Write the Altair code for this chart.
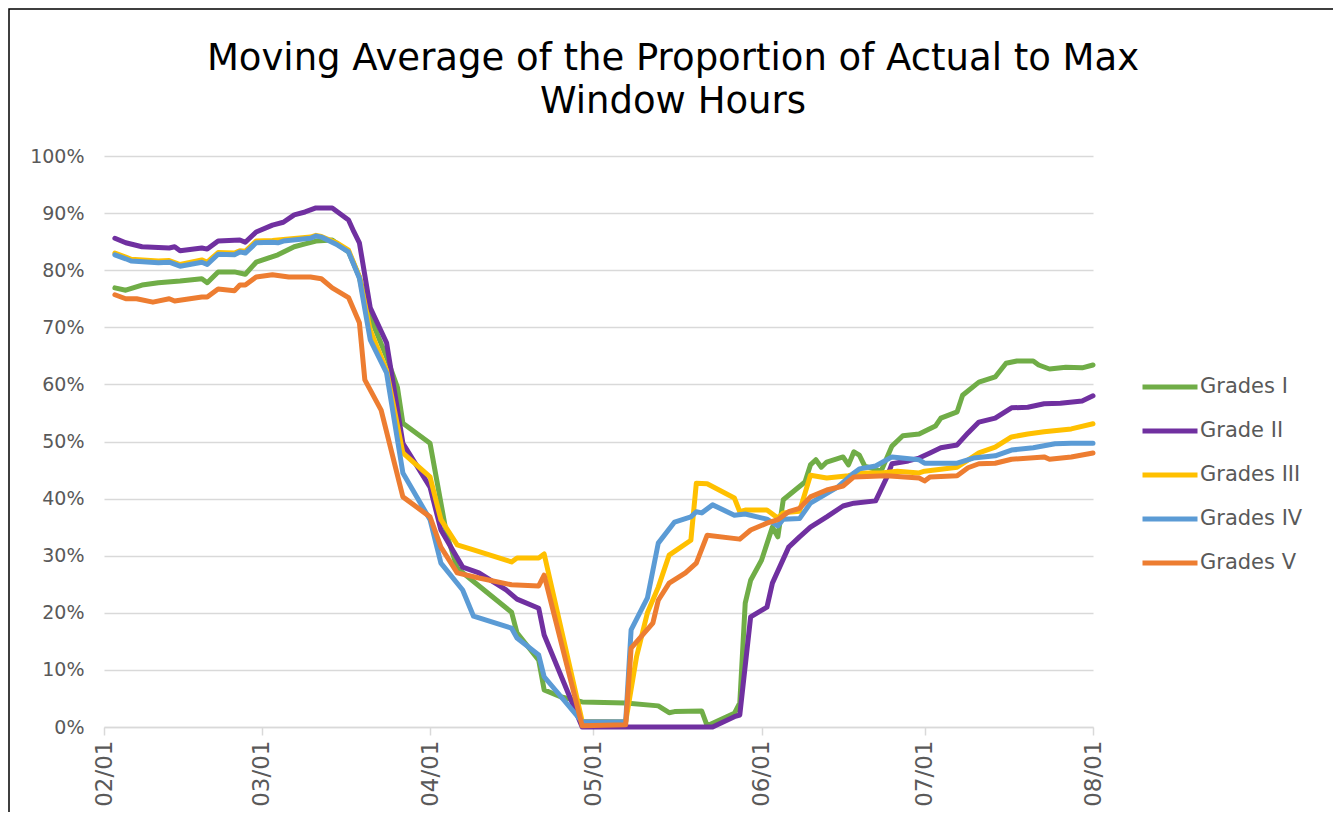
import altair as alt
import pandas as pd

title_lines = ["Moving Average of the Proportion of Actual to Max", "Window Hours"]
series_names = ["Grades I", "Grade II", "Grades III", "Grades IV", "Grades V"]
series_colors = ["#70AD47", "#7030A0", "#FFC000", "#5B9BD5", "#ED7D31"]

g1_dates = ["02-03", "02-05", "02-08", "02-11", "02-15", "02-19", "02-20", "02-22", "02-25", "02-27",
            "02-29", "03-04", "03-07", "03-09", "03-11", "03-14", "03-17", "03-19", "03-21", "03-24",
            "03-26", "03-27", "04-01", "04-04", "04-06", "04-16", "04-17", "04-21", "04-22", "04-25",
            "04-29", "05-07", "05-13", "05-15", "05-16", "05-21", "05-22", "05-27", "05-28", "05-29",
            "05-30", "06-01", "06-03", "06-04", "06-05", "06-09", "06-10", "06-11", "06-12", "06-13",
            "06-16", "06-17", "06-18", "06-19", "06-20", "06-23", "06-25", "06-27", "06-30", "07-03",
            "07-04", "07-07", "07-08", "07-11", "07-14", "07-16", "07-18", "07-21", "07-22", "07-24",
            "07-27", "07-30", "08-01"]
g1_vals = [76.9, 76.5, 77.4, 77.8, 78.1, 78.5, 77.8, 79.7, 79.7, 79.3,
           81.4, 82.7, 84.1, 84.6, 85.1, 85.3, 83.2, 78.8, 71.8, 64.8,
           59.5, 53.2, 49.7, 34.0, 27.8, 20.1, 16.5, 11.7, 6.5, 5.3,
           4.4, 4.2, 3.7, 2.5, 2.7, 2.8, 0.2, 2.4, 4.2, 21.7,
           25.7, 29.2, 35.0, 33.3, 39.8, 42.9, 45.9, 46.8, 45.5, 46.4,
           47.3, 45.9, 48.2, 47.6, 45.7, 44.8, 49.2, 51.0, 51.3, 52.7,
           54.1, 55.2, 58.1, 60.4, 61.3, 63.7, 64.1, 64.1, 63.4, 62.7,
           63.0, 62.9, 63.4]

g2_dates = ["02-03", "02-05", "02-08", "02-13", "02-14", "02-15", "02-19", "02-20", "02-22", "02-26",
            "02-27", "02-29", "03-03", "03-05", "03-07", "03-09", "03-11", "03-14", "03-17", "03-18",
            "03-19", "03-21", "03-24", "03-27", "04-01", "04-03", "04-07", "04-10", "04-15", "04-17",
            "04-21", "04-22", "04-29", "05-23", "05-27", "05-28", "05-30", "06-02", "06-03", "06-06",
            "06-08", "06-10", "06-13", "06-16", "06-18", "06-22", "06-24", "06-25", "06-28", "06-30",
            "07-02", "07-04", "07-07", "07-09", "07-11", "07-14", "07-17", "07-20", "07-23", "07-26",
            "07-30", "08-01"]
g2_vals = [85.6, 84.8, 84.1, 83.9, 84.1, 83.4, 83.9, 83.7, 85.1, 85.3,
           84.9, 86.7, 87.9, 88.4, 89.7, 90.2, 90.9, 90.9, 88.8, 86.7,
           84.8, 73.4, 67.3, 49.7, 42.0, 34.5, 28.0, 27.0, 24.0, 22.4,
           20.8, 16.1, 0.0, 0.0, 1.8, 2.1, 19.3, 21.0, 25.2, 31.5,
           33.3, 35.0, 36.8, 38.7, 39.2, 39.6, 43.6, 46.1, 46.6, 47.1,
           48.0, 48.9, 49.4, 51.5, 53.4, 54.1, 55.9, 56.0, 56.6, 56.7,
           57.1, 58.0]

g3_dates = ["02-03", "02-05", "02-06", "02-11", "02-13", "02-15", "02-19", "02-20", "02-22", "02-25",
            "02-26", "02-27", "02-29", "03-03", "03-05", "03-10", "03-11", "03-12", "03-15", "03-17",
            "03-19", "03-21", "03-24", "03-27", "04-01", "04-03", "04-06", "04-09", "04-16", "04-17",
            "04-21", "04-22", "04-29", "05-07", "05-09", "05-11", "05-13", "05-15", "05-19", "05-20",
            "05-22", "05-27", "05-28", "05-29", "06-02", "06-04", "06-05", "06-08", "06-10", "06-13",
            "06-17", "06-19", "06-23", "06-26", "06-30", "07-01", "07-07", "07-11", "07-14", "07-17",
            "07-20", "07-23", "07-28", "08-01"]
g3_vals = [83.0, 82.3, 81.9, 81.6, 81.7, 81.0, 81.8, 81.4, 83.1, 83.0,
           83.4, 83.3, 85.1, 85.2, 85.4, 85.8, 86.1, 85.9, 84.7, 83.5,
           78.8, 69.5, 62.5, 48.0, 43.8, 36.3, 31.9, 31.0, 28.9, 29.6,
           29.6, 30.3, 1.0, 0.9, 12.3, 20.0, 24.5, 30.1, 32.7, 42.7,
           42.6, 40.1, 37.7, 38.0, 38.0, 36.6, 37.5, 37.8, 44.1, 43.6,
           44.0, 44.5, 44.5, 44.8, 44.5, 44.8, 45.5, 48.0, 49.0, 50.8,
           51.3, 51.7, 52.2, 53.1]

g4_dates = ["02-03", "02-05", "02-06", "02-11", "02-13", "02-15", "02-19", "02-20", "02-22", "02-25",
            "02-26", "02-27", "02-29", "03-03", "03-04", "03-05", "03-10", "03-11", "03-12", "03-15",
            "03-17", "03-19", "03-21", "03-24", "03-27", "04-01", "04-03", "04-07", "04-09", "04-16",
            "04-17", "04-21", "04-22", "04-29", "05-07", "05-08", "05-11", "05-13", "05-16", "05-19",
            "05-20", "05-21", "05-23", "05-27", "05-29", "06-02", "06-04", "06-05", "06-08", "06-10",
            "06-15", "06-18", "06-19", "06-22", "06-25", "06-30", "07-01", "07-07", "07-10", "07-14",
            "07-17", "07-21", "07-25", "07-28", "08-01"]
g4_vals = [82.7, 82.0, 81.6, 81.3, 81.4, 80.7, 81.4, 81.0, 82.8, 82.7,
           83.2, 83.0, 84.8, 84.9, 84.8, 85.1, 85.6, 86.0, 85.8, 84.4,
           83.2, 78.6, 67.8, 62.0, 44.5, 36.3, 28.7, 24.0, 19.4, 17.3,
           15.6, 12.6, 8.8, 0.9, 0.9, 17.0, 22.6, 32.2, 35.9, 36.8,
           37.7, 37.5, 38.9, 37.1, 37.3, 36.4, 35.2, 36.4, 36.5, 39.2,
           42.0, 44.5, 45.2, 45.7, 47.3, 46.8, 46.2, 46.2, 47.1, 47.5,
           48.5, 48.9, 49.6, 49.7, 49.7]

g5_dates = ["02-03", "02-05", "02-07", "02-10", "02-13", "02-14", "02-19", "02-20", "02-22", "02-25",
            "02-26", "02-27", "02-29", "03-03", "03-06", "03-10", "03-12", "03-14", "03-17", "03-19",
            "03-20", "03-23", "03-27", "04-01", "04-03", "04-06", "04-10", "04-16", "04-21", "04-22",
            "04-29", "05-07", "05-08", "05-12", "05-13", "05-15", "05-18", "05-20", "05-22", "05-28",
            "05-30", "06-02", "06-04", "06-06", "06-08", "06-10", "06-13", "06-16", "06-18", "06-24",
            "06-30", "07-01", "07-02", "07-07", "07-09", "07-11", "07-14", "07-17", "07-23", "07-24",
            "07-28", "08-01"]
g5_vals = [75.7, 75.0, 75.0, 74.4, 75.0, 74.6, 75.3, 75.3, 76.7, 76.4,
           77.4, 77.4, 78.8, 79.2, 78.8, 78.8, 78.5, 76.9, 75.2, 70.8,
           60.8, 55.5, 40.3, 36.8, 31.5, 27.0, 26.1, 24.9, 24.7, 26.6,
           0.2, 0.4, 13.8, 18.2, 22.2, 25.2, 27.0, 28.7, 33.6, 32.9,
           34.5, 35.7, 36.3, 37.7, 38.3, 40.3, 41.5, 42.2, 43.8, 44.0,
           43.6, 43.1, 43.8, 44.0, 45.4, 46.1, 46.2, 46.9, 47.3, 46.9,
           47.3, 48.0]

month_ticks = ["02-01", "03-01", "04-01", "05-01", "06-01", "07-01", "08-01"]

all_dates = [g1_dates, g2_dates, g3_dates, g4_dates, g5_dates]
all_vals = [g1_vals, g2_vals, g3_vals, g4_vals, g5_vals]

frames = []
for name, ds, vs in zip(series_names, all_dates, all_vals):
    frames.append(pd.DataFrame({
        "date": ["2020-" + d + "T00:00:00" for d in ds],
        "value": [v / 100 for v in vs],
        "series": name,
    }))
df = pd.concat(frames, ignore_index=True)

FONT = "DejaVu Sans"
GRAY = "#595959"
GRID = "#d9d9d9"

tick_values = [alt.DateTime(year=2020, month=int(m[:2]), date=int(m[3:])) for m in month_ticks]

x_enc = alt.X(
    "date:T",
    scale=alt.Scale(domain=[alt.DateTime(year=2020, month=2, date=1),
                            alt.DateTime(year=2020, month=8, date=1)]),
    axis=alt.Axis(values=tick_values, format="%m/%d", labelAngle=-90, grid=False,
                  domainColor=GRID, domainWidth=1.5, tickColor=GRID, tickWidth=1.5,
                  tickSize=8, labelPadding=5, labelFont=FONT, labelFontSize=23,
                  labelColor=GRAY),
    title=None,
)
y_enc = alt.Y(
    "value:Q",
    scale=alt.Scale(domain=[0, 1]),
    axis=alt.Axis(values=[i / 10 for i in range(11)], format=".0%", grid=True,
                  gridColor=GRID, gridWidth=1.5, domain=False, ticks=False,
                  labelPadding=20, labelFont=FONT, labelFontSize=19, labelColor=GRAY),
    title=None,
)
color_enc = alt.Color(
    "series:N",
    scale=alt.Scale(domain=series_names, range=series_colors),
    legend=alt.Legend(orient="none", legendX=1036, legendY=201, title=None,
                      symbolType="stroke", symbolSize=3025, symbolStrokeWidth=5,
                      labelFont=FONT, labelFontSize=21, labelColor=GRAY,
                      rowPadding=4, labelOffset=0),
)

layers = []
for name in series_names:
    layers.append(
        alt.Chart(df)
        .transform_filter(alt.datum.series == name)
        .mark_line(strokeWidth=5, strokeJoin="round", strokeCap="round")
        .encode(x=x_enc, y=y_enc, color=color_enc)
    )

frame = alt.Chart(pd.DataFrame({"a": [0]})).mark_rect(
    color="white", fillOpacity=0, stroke="black", strokeWidth=1.5
).encode(x=alt.value(-95), x2=alt.value(1232), y=alt.value(-147), y2=alt.value(720))

title = alt.Chart(pd.DataFrame({"t": ["\n".join(title_lines)]})).mark_text(
    font=FONT, fontSize=37, fontWeight="normal", color="black", align="center",
    baseline="alphabetic", lineBreak="\n", lineHeight=43
).encode(text="t:N", x=alt.value(569), y=alt.value(-86))

chart = alt.layer(frame, title, *layers).properties(
    width=989,
    height=571,
    padding={"left": 96, "top": 148, "right": 240, "bottom": 85},
    autosize=alt.AutoSizeParams(type="none"),
).configure_view(strokeWidth=0)

chart.save("out.html", embed_options={"renderer": "svg", "actions": False})
